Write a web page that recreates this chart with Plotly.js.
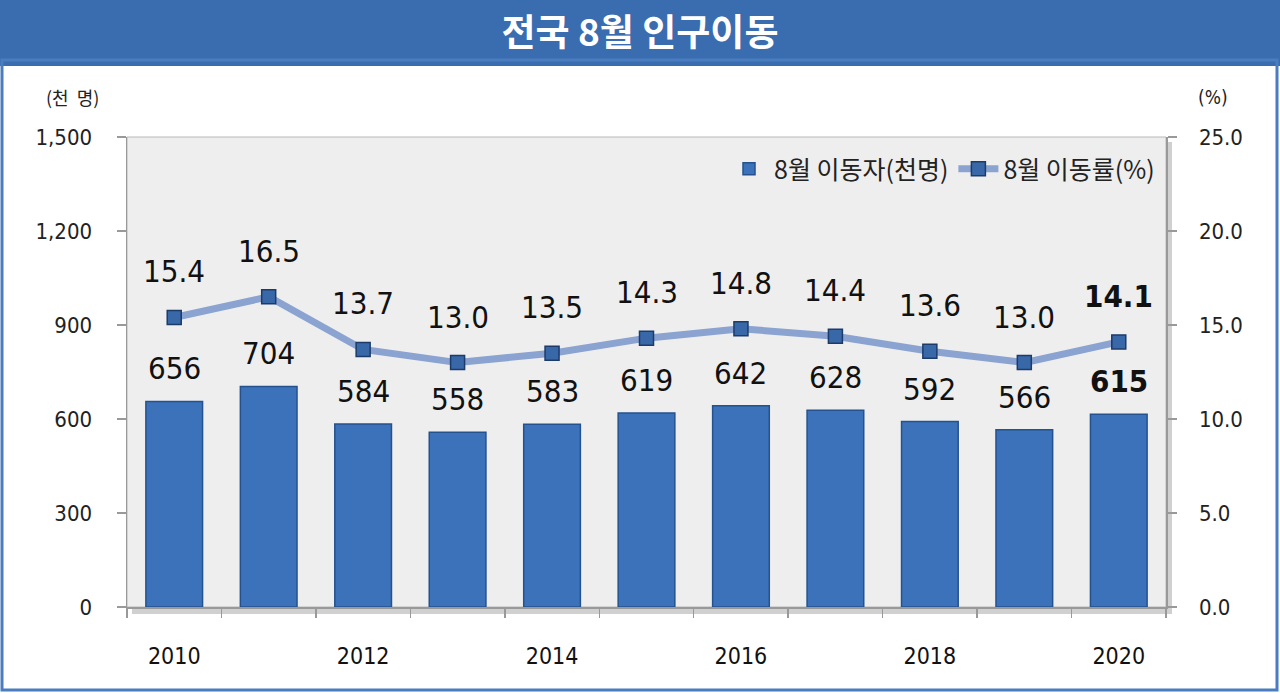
<!DOCTYPE html>
<html>
<head>
<meta charset="utf-8">
<script src="https://cdn.plot.ly/plotly-3.0.1.min.js"></script>
<style>
html,body{margin:0;padding:0;background:#fff;}
#chart{width:1280px;height:693px;}
</style>
</head>
<body>
<div id="chart"></div>
<script>
// ---- data ----
const years = [2010, 2011, 2012, 2013, 2014, 2015, 2016, 2017, 2018, 2019, 2020];
const movers = [656, 704, 584, 558, 583, 619, 642, 628, 592, 566, 615];        // 천 명
const moveRate = [15.4, 16.5, 13.7, 13.0, 13.5, 14.3, 14.8, 14.4, 13.6, 13.0, 14.1]; // %
const xTickYears = [2010, 2012, 2014, 2016, 2018, 2020];
const chartTitle = '전국 8월 인구이동';
const barName = '8월 이동자(천명)';
const lineName = '8월 이동률(%)';
const leftUnit = '(천&nbsp;&nbsp;명)';
const rightUnit = '(%)';

// ---- layout constants (pixels) ----
const W = 1280, H = 693;
const L = 127, R = 114, T = 137, B = 86;
const PW = W - L - R, PH = H - T - B;
const px = x => (x - L) / PW;            // pixel x -> paper x
const py = y => (H - B - y) / PH;         // pixel y -> paper y

const numFont = '"Liberation Sans Narrow", "DejaVu Sans Condensed", "Liberation Sans", sans-serif';
const krFont = '"Noto Sans CJK KR", "Noto Sans", sans-serif';
const lastIdx = years.length - 1;

const annotations = [];
years.forEach((yr, i) => {
  const bold = i === lastIdx;
  annotations.push({
    x: yr, y: moveRate[i], xref: 'x', yref: 'y2',
    text: bold ? '<b>' + moveRate[i].toFixed(1) + '</b>' : moveRate[i].toFixed(1),
    showarrow: false, yanchor: 'middle', yshift: 46,
    font: {family: numFont, size: 31, color: '#111'}
  });
  annotations.push({
    x: yr, y: movers[i], xref: 'x', yref: 'y',
    text: bold ? '<b>' + movers[i] + '</b>' : String(movers[i]),
    showarrow: false, yanchor: 'middle', yshift: 33,
    font: {family: numFont, size: 31, color: '#111'}
  });
});
annotations.push({
  xref: 'paper', yref: 'paper', x: px(101), y: py(97), xanchor: 'right', yanchor: 'middle',
  text: leftUnit, showarrow: false, font: {family: krFont, size: 18, color: '#222'}
});
annotations.push({
  xref: 'paper', yref: 'paper', x: px(1213), y: py(97), xanchor: 'center', yanchor: 'middle',
  text: rightUnit, showarrow: false, font: {family: numFont, size: 19, color: '#222'}
});

const shapes = [
  // plot shadow
  {type: 'rect', xref: 'paper', yref: 'paper', layer: 'below',
   x0: px(L + 5), x1: px(W - R + 6), y0: py(H - B + 7), y1: py(T + 5),
   fillcolor: 'rgba(120,120,120,0.35)', line: {width: 0}},
  // plot background
  {type: 'rect', xref: 'paper', yref: 'paper', layer: 'below',
   x0: 0, x1: 1, y0: 0, y1: 1,
   fillcolor: '#eeeeee', line: {color: '#b8b8b8', width: 1}},
  // title bar
  {type: 'rect', xref: 'paper', yref: 'paper', layer: 'below',
   x0: px(0), x1: px(W), y0: py(66), y1: py(0),
   fillcolor: '#3a6cb0', line: {width: 0}},
  // outer border
  {type: 'rect', xref: 'paper', yref: 'paper', layer: 'below',
   x0: px(2), x1: px(W - 3), y0: py(H - 3), y1: py(60),
   fillcolor: 'rgba(0,0,0,0)', line: {color: '#4a7cc0', width: 3}}
];

const traces = [
  {
    type: 'bar', name: barName, x: years, y: movers, yaxis: 'y',
    width: 0.6,
    marker: {color: '#3b72b9', line: {color: '#24528e', width: 1.5}},
    hoverinfo: 'x+y'
  },
  {
    type: 'scatter', mode: 'lines+markers', name: lineName, x: years, y: moveRate, yaxis: 'y2',
    line: {color: '#8aa3d1', width: 7},
    marker: {symbol: 'square', size: 14, color: '#3868a8', line: {color: '#1d3b68', width: 1.5}},
    hoverinfo: 'x+y'
  }
];

const layout = {
  width: W, height: H,
  margin: {l: L, r: R, t: T, b: B, pad: 0},
  paper_bgcolor: '#ffffff',
  plot_bgcolor: 'rgba(0,0,0,0)',
  title: {
    text: '<b>' + chartTitle + '</b>',
    x: 0.5, xref: 'container', y: 1 - 33 / H, yref: 'container',
    xanchor: 'center', yanchor: 'middle',
    font: {family: krFont, size: 37, color: '#ffffff'}
  },
  showlegend: true,
  legend: {
    orientation: 'h', x: px(1160), y: py(146), xanchor: 'right', yanchor: 'top',
    bgcolor: 'rgba(0,0,0,0)', font: {family: krFont, size: 25, color: '#222'},
    itemwidth: 40, traceorder: 'normal'
  },
  xaxis: {
    range: [years[0] - 0.5, years[lastIdx] + 0.5],
    tickvals: xTickYears, ticktext: xTickYears.map(String),
    ticks: '', showgrid: false, zeroline: false,
    showline: true, linecolor: '#999', linewidth: 1.5,
    ticklabelstandoff: 28,
    tickfont: {family: numFont, size: 23, color: '#111'},
    minor: {dtick: 1, tick0: years[0] - 0.5, ticks: 'outside', ticklen: 9, tickcolor: '#999', tickwidth: 1.5, showgrid: false}
  },
  yaxis: {
    range: [0, 1500], dtick: 300, tickformat: ',d',
    ticks: 'outside', ticklen: 9, tickcolor: '#999', tickwidth: 1.5,
    showline: true, linecolor: '#999', linewidth: 1.5,
    showgrid: false, zeroline: false,
    ticklabelstandoff: 20,
    tickfont: {family: numFont, size: 22, color: '#222'}
  },
  yaxis2: {
    range: [0, 25], dtick: 5, tickformat: '.1f', overlaying: 'y', side: 'right',
    ticks: 'outside', ticklen: 9, tickcolor: '#999', tickwidth: 1.5,
    showline: true, linecolor: '#999', linewidth: 1.5,
    showgrid: false, zeroline: false,
    ticklabelstandoff: 18,
    tickfont: {family: numFont, size: 22, color: '#222'}
  },
  annotations: annotations,
  shapes: shapes
};

Plotly.newPlot('chart', traces, layout, {displayModeBar: false, staticPlot: true});
</script>
</body>
</html>
